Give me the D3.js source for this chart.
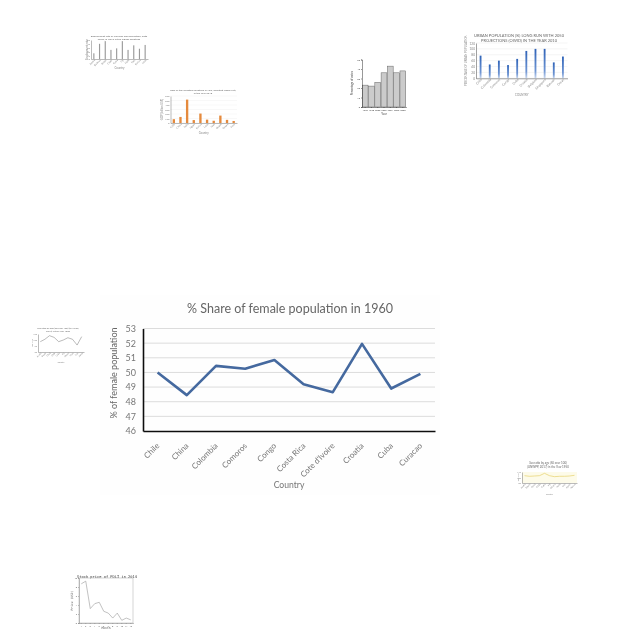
<!DOCTYPE html>
<html><head><meta charset="utf-8">
<script src="https://cdn.jsdelivr.net/npm/d3@7"></script>
<style>html,body{margin:0;padding:0;background:#fff}svg{display:block}text{font-family:Lato,"Open Sans",sans-serif}</style>
</head><body>
<svg id="c" width="640" height="640"></svg>
<script>
const femaleCountries=["Chile","China","Colombia","Comoros","Congo","Costa Rica","Cote d'Ivoire","Croatia","Cuba","Curacao"];
const femaleShare=[50,48.45,50.45,50.25,50.85,49.2,48.65,51.95,48.9,49.9];
const femaleTicks=[46,47,48,49,50,51,52,53];
const grayCats=["Aruba","Belarus","Brazil","Chad","Cuba","Fiji","Haiti","Iraq","Kenya","Laos"];
const grayVals=[15,40,47,24,28,47,24,36,27,37];
const orangeCats=["Chile","China","India","Japan","Kenya","Laos","Mali","Nepal","Oman","Peru"];
const orangeVals=[85,135,520,65,210,75,50,165,70,45];
const histYears=["1996","1998","2000","2002","2004","2006","2008"];
const histVals=[23,22,26,36,43,36,38];
const histTicks=[0,10,20,30,40,50];
const urbanCats=["Chile","Colombia","Comoros","Congo","Cuba","Croatia","Belgium","Singapore","Bahrain","Oman"];
const urbanVals=[77,47,60,45,66,93,100,100,54,74];
const ratioCats=["Aruba","Benin","Chad","Chile","Cuba","Fiji","Ghana","Haiti","Iran","Japan"];
const ratioVals=[98.6,100.6,103.6,102.2,98.6,100,101.9,100.6,95.8,102.8];
const yellowCats=["Aruba","Benin","Chad","Chile","Cuba","Fiji","Ghana","Haiti","Iran","Japan","Kenya"];
const yellowVals=[103.3,102.2,102.7,103.3,107.6,103.3,101.5,102.2,102.2,102.7,104];
const stockMonths=["1","2","3","4","5","6","7","8","9","10","11","12"];
const stockVals=[8.7,9.3,3.2,4.3,4.6,2.6,2.2,1.1,2.2,0.6,1.1,0.7];
const stockTicks=[0,2,4,6,8,10];

const svg=d3.select("#c");
const defs=svg.append("defs");
defs.append("filter").attr("id","soft").attr("x","-5%").attr("y","-5%").attr("width","110%").attr("height","110%")
  .append("feGaussianBlur").attr("stdDeviation",0.35);
defs.append("filter").attr("id","softS").attr("x","-5%").attr("y","-5%").attr("width","110%").attr("height","110%")
  .append("feGaussianBlur").attr("stdDeviation",0.5);
const grad=defs.append("linearGradient").attr("id","urbanFill").attr("x1",0).attr("x2",0).attr("y1",0).attr("y2",1);
grad.append("stop").attr("offset","0").attr("stop-color","#2f63b8");
grad.append("stop").attr("offset","0.75").attr("stop-color","#6f95d3");
grad.append("stop").attr("offset","1").attr("stop-color","#c9d7ee");

function styleAxis(g,color,w,tc,fs){
  g.selectAll("path,line").attr("stroke",color).attr("stroke-width",w);
  g.selectAll("text").attr("fill",tc).attr("font-size",fs);
}

// Main chart
(function(){
  const g=svg.append("g").attr("filter","url(#soft)");
  g.append("rect").attr("x",100).attr("y",295).attr("width",340).attr("height",200).attr("fill","#fefefe");
  const x=d3.scaleBand().domain(femaleCountries).range([143,435]);
  const y=d3.scaleLinear().domain([46,53]).range([431,328.5]);
  g.append("g").selectAll("line").data(femaleTicks.slice(1)).join("line")
    .attr("x1",143).attr("x2",435).attr("y1",d=>y(d)).attr("y2",d=>y(d)).attr("stroke","#dcdcdc").attr("stroke-width",1);
  const ax=g.append("g").attr("transform","translate(0,431)").call(d3.axisBottom(x).tickSize(0).tickPadding(8));
  styleAxis(ax,"#111",1.6,"#767676",8);
  ax.selectAll("text").attr("text-anchor","end").attr("transform","translate(-5,8) rotate(-45)").attr("dy","0.3em");
  const ay=g.append("g").attr("transform","translate(143,0)").call(d3.axisLeft(y).tickValues(femaleTicks).tickFormat(d3.format("d")).tickSize(0).tickPadding(7));
  styleAxis(ay,"#111",1.6,"#767676",9);
  g.append("path").datum(femaleShare).attr("fill","none").attr("stroke","#44699f").attr("stroke-width",2.6).attr("stroke-linejoin","round")
    .attr("d",d3.line().x((d,i)=>x(femaleCountries[i])+x.bandwidth()/2).y(d=>y(d)));
  g.append("text").text("% Share of female population in 1960").attr("x",290).attr("y",313).attr("text-anchor","middle").attr("fill","#666").attr("font-size",12.5);
  g.append("text").text("Country").attr("x",289).attr("y",488).attr("text-anchor","middle").attr("fill","#767676").attr("font-size",8.6);
  g.append("text").text("% of female population").attr("transform","translate(117,373) rotate(-90)").attr("text-anchor","middle").attr("fill","#666").attr("font-size",9);
})();

// Generic miniature chart
function mini(o){
  const g=svg.append("g").attr("filter","url(#softS)");
  const x=d3.scaleBand().domain(o.cats).range([o.l,o.r]);
  const y=d3.scaleLinear().domain(o.dom).range([o.b,o.t]);
  const ticks=o.ticks;
  if(o.bg) g.append("rect").attr("x",o.l).attr("y",o.t).attr("width",o.r-o.l).attr("height",o.b-o.t).attr("fill",o.bg);
  if(o.grid) g.append("g").selectAll("line").data(ticks).join("line").attr("x1",o.l).attr("x2",o.r).attr("y1",d=>y(d)).attr("y2",d=>y(d)).attr("stroke",o.grid).attr("stroke-width",.4);
  if(o.type==="bar"){
    g.append("g").selectAll("rect").data(o.vals).join("rect")
      .attr("x",(d,i)=>x(o.cats[i])+x.bandwidth()*(1-o.bw)/2).attr("width",x.bandwidth()*o.bw)
      .attr("y",d=>y(d)).attr("height",d=>y(o.dom[0])-y(d)).attr("fill",o.color)
      .attr("stroke",o.stroke||"none").attr("stroke-width",o.stroke?.5:0);
  } else {
    g.append("path").datum(o.vals).attr("fill","none").attr("stroke",o.color).attr("stroke-width",o.sw||.6)
      .attr("d",d3.line().x((d,i)=>x(o.cats[i])+x.bandwidth()/2).y(d=>y(d)));
  }
  const ax=g.append("g").attr("transform",`translate(0,${o.b})`).call(d3.axisBottom(x).tickSize(o.tick||0).tickPadding(1));
  styleAxis(ax,o.axis||"#777",o.aw||.5,o.text||"#888",o.fs||2.6);
  if(o.rot) ax.selectAll("text").attr("text-anchor","end").attr("transform","rotate(-45)").attr("dy","0.4em");
  const ay=g.append("g").attr("transform",`translate(${o.l},0)`).call(d3.axisLeft(y).tickValues(ticks).tickFormat(d3.format("d")).tickSize(o.tick||0).tickPadding(1));
  styleAxis(ay,o.axis||"#777",o.aw||.5,o.text||"#888",o.fs||2.6);
  const tg=g.append("g").attr("font-size",o.tfs||3).attr("fill",o.tc||"#666").attr("text-anchor","middle");
  o.title.forEach((t,i)=>{const e=tg.append("text").text(t).attr("x",o.tx).attr("y",o.ty+i*(o.tl||4));if(o.mono)e.style("font-family","'DejaVu Sans Mono'")});
  const xl=g.append("text").text(o.xlab).attr("x",(o.l+o.r)/2).attr("y",o.xly).attr("text-anchor","middle").attr("font-size",o.lfs||2.8).attr("fill",o.text||"#888");
  const yl=g.append("text").text(o.ylab).attr("transform",`translate(${o.yly},${(o.t+o.b)/2}) rotate(-90)`).attr("text-anchor","middle").attr("font-size",o.lfs||2.8).attr("fill",o.text||"#888");
  if(o.mono){xl.style("font-family","'DejaVu Sans Mono'");yl.style("font-family","'DejaVu Sans Mono'");}
  if(o.box) g.append("rect").attr("x",o.l).attr("y",o.t).attr("width",o.r-o.l).attr("height",o.b-o.t).attr("fill","none").attr("stroke",o.box).attr("stroke-width",.5);
}

mini({type:"bar",cats:grayCats,vals:grayVals,color:"#9a9a9a",bw:.2,l:91,r:148,t:40,b:59,dom:[0,50],ticks:[0,10,20,30,40,50],rot:true,
  title:["Employment rate of working-age population, both","sexes, in 2010 in the OECD countries"],tx:119,ty:37,tl:2.8,xlab:"Country",xly:68.5,ylab:"Employment rate",yly:88,tfs:2.6});
mini({type:"bar",cats:orangeCats,vals:orangeVals,color:"#e58a3c",bw:.35,l:170.5,r:237,t:96,b:123,dom:[0,600],ticks:[0,100,200,300,400,500,600],rot:true,grid:"#eee",
  title:["GDP of the selected countries in Asia, constant 2005 US$,","in the year 2013"],tx:203,ty:91,tl:2.6,xlab:"Country",xly:133.5,ylab:"GDP (billion US$)",yly:163,tfs:2.6});
mini({type:"bar",cats:histYears,vals:histVals,color:"#cbcbcb",stroke:"#666",bw:.92,l:362,r:406,t:59.5,b:107,dom:[0,50],ticks:histTicks,
  title:[""],tx:384,ty:55,xlab:"Year",xly:115,ylab:"Percentage of votes",yly:353,axis:"#333",text:"#444",tick:1,fs:2.3});
mini({type:"bar",cats:urbanCats,vals:urbanVals,color:"url(#urbanFill)",bw:.2,l:476,r:567.5,t:43,b:78.3,dom:[0,120],ticks:[0,20,40,60,80,100,120],rot:true,grid:"#e6e6e6",axis:"#444",
  title:["URBAN POPULATION (%) LONG RUN WITH 2050","PROJECTIONS (OWID) IN THE YEAR 2010"],tx:519,ty:37,tl:5,tfs:4,fs:3.2,xlab:"COUNTRY",xly:95.5,ylab:"PERCENTAGE OF URBAN POPULATION",yly:467,lfs:2.8});
mini({type:"line",cats:ratioCats,vals:ratioVals,color:"#777",l:38,r:84,t:334,b:352,dom:[90,105],ticks:[90,95,100,105],rot:true,sw:.5,
  title:["Sex ratio by age (50 over 100) (UNWPP,","2017) in the Year 1950"],tx:58,ty:329,tl:3,tfs:2.4,fs:2.2,xlab:"Country",xly:363,ylab:"Sex ratio",yly:33,lfs:2});
mini({type:"line",cats:yellowCats,vals:yellowVals,color:"#e3c955",bg:"#fdfbe9",l:522,r:577,t:472,b:483,dom:[90,110],ticks:[90,100,110],rot:true,sw:.6,
  title:["Sex ratio by age (50 over 100)","(UNWPP, 2017) in the Year 1950"],tx:548,ty:464,tl:4,tfs:2.9,fs:2.4,xlab:"Country",xly:495,ylab:"Sex ratio",yly:519,lfs:2});
mini({type:"line",cats:stockMonths,vals:stockVals,color:"#999",l:79,r:133,t:578,b:623,dom:[0,10],ticks:stockTicks,box:"#aaa",mono:true,sw:.6,tick:1,
  title:["Stock price of PDLI in 2014"],tx:107,ty:577.5,tfs:3.7,tc:"#333",fs:2.2,axis:"#777",text:"#555",xlab:"Month",xly:629,ylab:"Price (USD)",yly:73,lfs:3});
</script>
</body></html>
